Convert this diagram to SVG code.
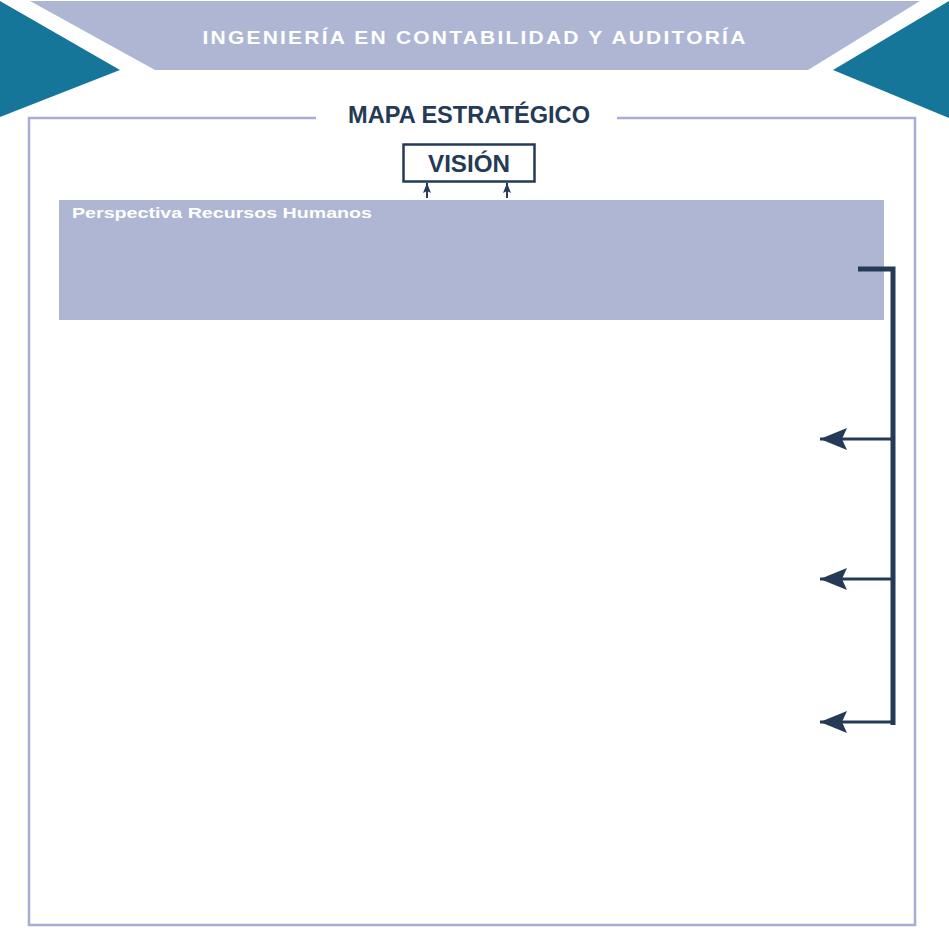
<svg xmlns="http://www.w3.org/2000/svg" width="949" height="930" viewBox="0 0 949 930">
<style>
.navy{fill:#243A56}
.frame{fill:none;stroke:#A9ADD6;stroke-width:2.5}
.conn{fill:none;stroke:#243A56;stroke-linecap:butt}
.t{font-family:"Liberation Sans",Arial,sans-serif;font-weight:bold}
</style>
<defs>
<marker id="ah" markerUnits="userSpaceOnUse" viewBox="0 0 27 22" refX="27" refY="11" markerWidth="27" markerHeight="22" orient="auto">
<path d="M27,11 L0,0 L5,11 L0,22 Z" fill="#243A56"/>
</marker>
<marker id="sm" markerUnits="userSpaceOnUse" viewBox="0 0 10 10" refX="10" refY="5" markerWidth="10" markerHeight="10" orient="auto">
<path d="M10,5 L0,1 L2,5 L0,9 Z" fill="#243A56"/>
</marker>
</defs>
<rect width="949" height="930" fill="#ffffff"/>
<g id="header">
<polygon points="30,1 920,1 808,70 155,70" fill="#AEB6D4"/>
<polygon points="0,1 120,70 0,117" fill="#16769A"/>
<polygon points="949,1 833,70 949,118" fill="#16769A"/>
<text class="t" x="475" y="44" font-size="19" fill="#ffffff" text-anchor="middle" textLength="545" lengthAdjust="spacingAndGlyphs" letter-spacing="2">INGENIERÍA EN CONTABILIDAD Y AUDITORÍA</text>
</g>
<g id="frame">
<path class="frame" d="M316,118 L29,118 L29,925 L915,925 L915,118 L617,118"/>
<text class="t navy" x="469" y="123" font-size="23" text-anchor="middle" textLength="242" lengthAdjust="spacingAndGlyphs">MAPA ESTRATÉGICO</text>
</g>
<g id="vision">
<rect x="403.5" y="144.5" width="131" height="37" fill="#ffffff" stroke="#243A56" stroke-width="2.5"/>
<text class="t navy" x="469" y="172" font-size="23" text-anchor="middle" textLength="82" lengthAdjust="spacingAndGlyphs">VISIÓN</text>
</g>
<g id="perspectiva">
<rect x="59" y="200" width="825" height="120" fill="#AEB6D4"/>
<text class="t" x="72" y="218" font-size="15" fill="#ffffff" textLength="300" lengthAdjust="spacingAndGlyphs">Perspectiva Recursos Humanos</text>
</g>
<g id="connectors">
<path class="conn" stroke-width="2" d="M427,198 L427,183" marker-end="url(#sm)"/>
<path class="conn" stroke-width="2" d="M507,198 L507,183" marker-end="url(#sm)"/>
<path class="conn" stroke-width="5" d="M858,269 L893,269 L893,725"/>
<path class="conn" stroke-width="3" d="M893,439 L820,439" marker-end="url(#ah)"/>
<path class="conn" stroke-width="3" d="M893,579 L820,579" marker-end="url(#ah)"/>
<path class="conn" stroke-width="3" d="M893,722 L820,722" marker-end="url(#ah)"/>
</g>
</svg>
